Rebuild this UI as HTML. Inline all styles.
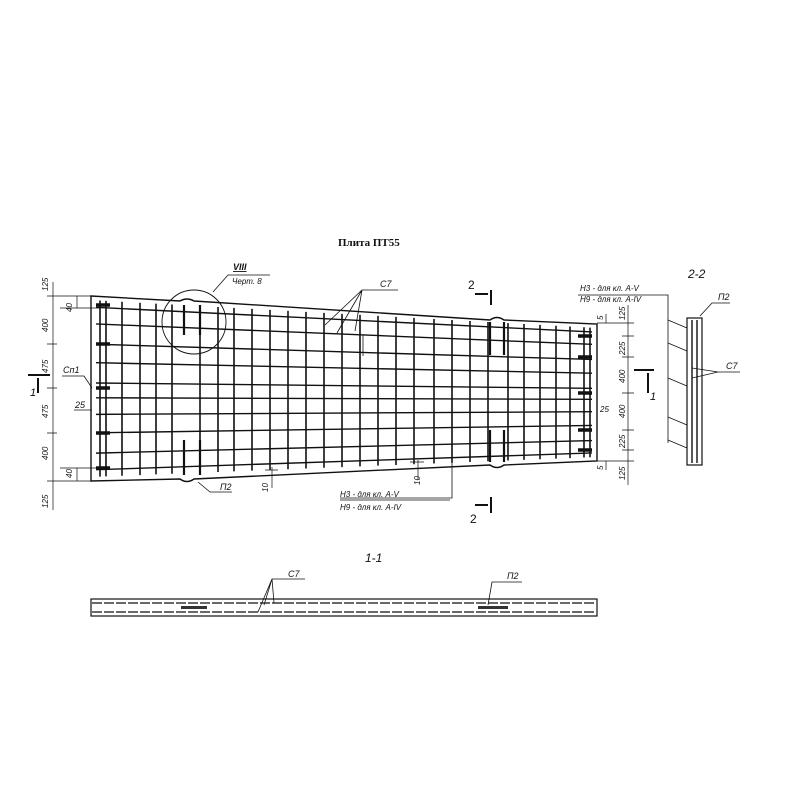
<!DOCTYPE html>
<html><head><meta charset="utf-8"><style>
html,body{margin:0;padding:0;background:#fff;}
svg{display:block}
text{font-family:"Liberation Sans",sans-serif;font-style:italic;fill:#111}
</style></head><body>
<svg id="s" width="800" height="800" viewBox="0 0 800 800" xmlns="http://www.w3.org/2000/svg" stroke="#111" fill="none" stroke-width="1">
<text x="338" y="246" style="font-family:'Liberation Serif',serif;font-style:normal;font-size:11px;font-weight:bold" stroke="none">Плита ПТ55</text>
<path d="M91,296 L180,301 Q187,297 194,301 L490,320 Q497,315 504,320 L597,324 L597,461 L504,465 Q497,470 490,465 L194,479 Q187,484 180,479 L91,481 Z" stroke-width="1.4"/>
<g id="grid" stroke-width="1.8"></g>
<circle cx="194" cy="322" r="32" stroke-width="0.9"/>
<path d="M213,292 L228,275 L270,275" stroke-width="0.8"/>
<text x="233" y="270" font-size="9" font-weight="bold" stroke="none" text-decoration="underline">VIII</text>
<text x="232" y="284" font-size="8" stroke="none">Черт. 8</text>
<path d="M325,325 L362,290 L398,290 M337,333 L362,290 M355,331 L362,290" stroke-width="0.8"/>
<text x="380" y="287" font-size="9" stroke="none">C7</text>
<path d="M363,335 L363,356" stroke-width="0.8"/>
<path d="M92,388 L84,376 L62,376" stroke-width="0.8"/>
<text x="63" y="373" font-size="9" stroke="none">Cп1</text>
<text x="75" y="408" font-size="9" stroke="none">25</text>
<path d="M74,410 L92,410" stroke-width="0.7"/>
<path d="M198,482 L210,492 L232,492" stroke-width="0.8"/>
<text x="220" y="490" font-size="9" stroke="none">П2</text>
<path d="M272,467 L272,488 M265,470 L278,470" stroke-width="0.7"/>
<text x="268" y="492" font-size="8" stroke="none" transform="rotate(-90 268 492)">10</text>
<path d="M418,460 L418,480 M410,462 L424,462" stroke-width="0.7"/>
<text x="420" y="485" font-size="8" stroke="none" transform="rotate(-90 420 485)">10</text>
<path d="M452,335 L452,498 L340,498 M340,500 L450,500" stroke-width="0.8"/>
<text x="340" y="497" font-size="8" stroke="none">Н3 - для кл. А-V</text>
<text x="340" y="510" font-size="8" stroke="none">Н9 - для кл. А-IV</text>
<path d="M491,290 L491,305 M475,294 L488,294" stroke-width="2"/>
<text x="468" y="289" font-size="12" stroke="none" style="font-style:normal">2</text>
<path d="M491,497 L491,513 M475,505 L488,505" stroke-width="2"/>
<text x="470" y="523" font-size="12" stroke="none" style="font-style:normal">2</text>
<path d="M28,375 L50,375 M38,378 L38,393" stroke-width="2"/>
<text x="30" y="396" font-size="11" stroke="none">1</text>
<path d="M634,370 L654,370 M648,373 L648,393" stroke-width="2"/>
<text x="650" y="400" font-size="11" stroke="none">1</text>
<path d="M53,282 L53,510 M47,296 L91,296 M47,481 L91,481 M60,308 L100,308 M60,468 L100,468 M47,344 L57,344 M47,388 L57,388 M47,433 L57,433 M77,296 L77,308 M77,468 L77,481" stroke-width="0.7"/>
<g font-size="8" stroke="none">
<text transform="translate(48,291) rotate(-90)">125</text>
<text transform="translate(72,312) rotate(-90)">40</text>
<text transform="translate(48,332) rotate(-90)">400</text>
<text transform="translate(48,373) rotate(-90)">475</text>
<text transform="translate(48,418) rotate(-90)">475</text>
<text transform="translate(48,460) rotate(-90)">400</text>
<text transform="translate(72,478) rotate(-90)">40</text>
<text transform="translate(48,508) rotate(-90)">125</text>
</g>
<path d="M628,305 L628,485 M597,323 L634,323 M597,461 L634,461 M622,336 L634,336 M622,357 L634,357 M622,393 L634,393 M622,430 L634,430 M622,450 L634,450 M606,314 L606,323 M606,461 L606,470" stroke-width="0.7"/>
<g font-size="8" stroke="none">
<text transform="translate(625,320) rotate(-90)">125</text>
<text transform="translate(625,355) rotate(-90)">225</text>
<text transform="translate(625,383) rotate(-90)">400</text>
<text transform="translate(625,418) rotate(-90)">400</text>
<text transform="translate(625,448) rotate(-90)">225</text>
<text transform="translate(625,480) rotate(-90)">125</text>
<text transform="translate(603,320) rotate(-90)">5</text>
<text transform="translate(603,470) rotate(-90)">5</text>
<text x="600" y="412">25</text>
</g>
<path d="M578,295 L668,295 L668,443" stroke-width="0.8"/>
<text x="580" y="291" font-size="8" stroke="none">Н3 - для кл. А-V</text>
<text x="580" y="302" font-size="8" stroke="none">Н9 - для кл. А-IV</text>
<text x="688" y="278" font-size="12" stroke="none">2-2</text>
<rect x="687" y="318" width="15" height="147" stroke-width="1.2"/>
<path d="M692,320 L692,463 M697,320 L697,463" stroke-width="1.4"/>
<path d="M668,320 L687,328 M668,343 L687,351 M668,378 L687,386 M668,417 L687,425 M668,440 L687,448" stroke-width="0.8"/>
<path d="M700,316 L712,303 L730,303" stroke-width="0.8"/>
<text x="718" y="300" font-size="9" stroke="none">П2</text>
<path d="M692,368 L718,372 L692,378 M718,372 L740,372" stroke-width="0.8"/>
<text x="726" y="369" font-size="9" stroke="none">C7</text>
<text x="365" y="562" font-size="12" stroke="none">1-1</text>
<rect x="91" y="599" width="506" height="17" stroke-width="1.2"/>
<path d="M92,603 L596,603 M92,612 L596,612" stroke-width="1.3" stroke-dasharray="10,2"/>
<rect x="181" y="606" width="26" height="3" fill="#333" stroke="none"/>
<rect x="478" y="606" width="30" height="3" fill="#333" stroke="none"/>
<path d="M258,612 L272,579 L305,579 M264,605 L272,579 M272,579 L274,603" stroke-width="0.8"/>
<text x="288" y="577" font-size="9" stroke="none">C7</text>
<path d="M488,605 L492,582 L522,582" stroke-width="0.8"/>
<text x="507" y="579" font-size="9" stroke="none">П2</text>
</svg>
<script>
(function(){
var g=document.getElementById('grid'),ns='http://www.w3.org/2000/svg';
function L(x1,y1,x2,y2,w){var l=document.createElementNS(ns,'line');l.setAttribute('x1',x1);l.setAttribute('y1',y1);l.setAttribute('x2',x2);l.setAttribute('y2',y2);if(w)l.setAttribute('stroke-width',w);g.appendChild(l);}
function tp(x){return 296+(x-91)*(324-296)/506;}
function bt(x){return 481+(x-91)*(461-481)/506;}
var xs=[100,106,122,140,156,172,200,218,234,252,270,288,306,324,342,360,378,396,414,434,452,470,488,508,524,540,556,570,584,590];
xs.forEach(function(x){L(x,tp(x)+4,x,bt(x)-4,1.6);});
var fr=[0.06,0.15,0.26,0.36,0.47,0.55,0.64,0.74,0.85,0.94];
fr.forEach(function(f){var y1=tp(96)+(bt(96)-tp(96))*f,y2=tp(592)+(bt(592)-tp(592))*f;L(96,y1,592,y2,1.4);});
[[96,305],[96,344],[96,388],[96,433],[96,468]].forEach(function(p){L(p[0],p[1],p[0]+14,p[1],3.5);});
[[578,336],[578,357],[578,393],[578,430],[578,450]].forEach(function(p){L(p[0],p[1],p[0]+14,p[1],3.5);});
[[184,305,184,335],[200,305,200,335],[184,440,184,475],[200,440,200,475],[490,322,490,355],[504,322,504,355],[490,430,490,462],[504,430,504,462]].forEach(function(a){L(a[0],a[1],a[2],a[3],2.2);});
})();
</script>
</body></html>
